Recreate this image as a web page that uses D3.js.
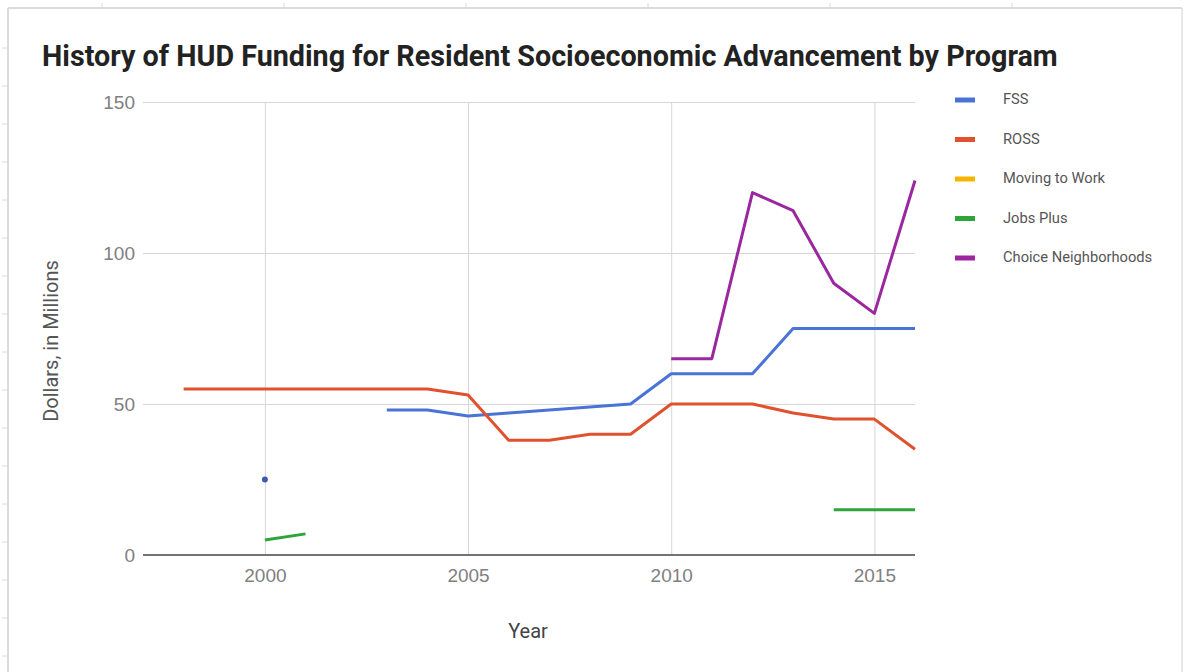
<!DOCTYPE html>
<html>
<head>
<meta charset="utf-8">
<script src="https://cdn.jsdelivr.net/npm/d3@7"></script>
<style>
  html, body { margin: 0; padding: 0; background: #fff; }
  svg { display: block; font-family: Roboto, Arial, sans-serif; }
</style>
</head>
<body>
<svg id="chart" width="1187" height="672"></svg>
<script>
// values (millions of dollars), null = no funding shown
const years = d3.range(1998, 2017);
const fss = [null, null, 25, null, null, 48, 48, 46, 47, 48, 49, 50, 60, 60, 60, 75, 75, 75, 75];
const ross = [55, 55, 55, 55, 55, 55, 55, 53, 38, 38, 40, 40, 50, 50, 50, 47, 45, 45, 35];
const movingToWork = [null, null, null, null, null, null, null, null, null, null, null, null, null, null, null, null, null, null, null];
const jobsPlus = [null, null, 5, 7, null, null, null, null, null, null, null, null, null, null, null, null, 15, 15, 15];
const choice = [null, null, null, null, null, null, null, null, null, null, null, null, 65, 65, 120, 114, 90, 80, 124];

const seriesNames = ['FSS', 'ROSS', 'Moving to Work', 'Jobs Plus', 'Choice Neighborhoods'];
const seriesValues = [fss, ross, movingToWork, jobsPlus, choice];
const colors = ['#4a73d6', '#e0512e', '#f4b400', '#2fa43a', '#9b279f'];
const xTicks = [2000, 2005, 2010, 2015];
const yTicks = [0, 50, 100, 150];

const W = 1187, H = 672;
const M = { top: 102, right: 272, bottom: 117, left: 143 };

const svg = d3.select('#chart');

// spreadsheet frame behind the chart
const frame = svg.append('g').attr('stroke', '#cfcfcf').attr('fill', 'none');
frame.append('line').attr('x1', 8).attr('x2', 1182).attr('y1', 8).attr('y2', 8).attr('stroke-width', 1.5);
frame.append('line').attr('x1', 8).attr('x2', 8).attr('y1', 8).attr('y2', H).attr('stroke-width', 1.5);
frame.append('line').attr('x1', 1182).attr('x2', 1182).attr('y1', 8).attr('y2', H).attr('stroke-width', 1);
d3.range(48, H, 38).forEach(yy => {
  frame.append('line').attr('x1', 2).attr('x2', 8).attr('y1', yy).attr('y2', yy).attr('stroke', '#d8d8d8');
});
d3.range(102, 1182, 182).forEach(xx => {
  frame.append('line').attr('x1', xx).attr('x2', xx).attr('y1', 3).attr('y2', 8).attr('stroke', '#d8d8d8');
});

const x = d3.scaleLinear().domain([1997, 2016]).range([M.left, W - M.right]);
const y = d3.scaleLinear().domain([0, 150]).range([H - M.bottom, M.top]);

// grid
svg.append('g')
  .attr('transform', `translate(0,${H - M.bottom})`)
  .call(d3.axisBottom(x).tickValues(xTicks).tickSize(-(H - M.top - M.bottom)).tickFormat(''))
  .call(g => g.select('.domain').remove())
  .call(g => g.selectAll('.tick line').attr('stroke', '#d6d6d6'));

svg.append('g')
  .attr('transform', `translate(${M.left},0)`)
  .call(d3.axisLeft(y).tickValues(yTicks).tickSize(-(W - M.left - M.right)).tickFormat(d3.format('d')))
  .call(g => g.select('.domain').remove())
  .call(g => g.selectAll('.tick line').attr('stroke', d => d === 0 ? 'none' : '#d6d6d6'))
  .call(g => g.selectAll('text')
    .attr('fill', '#808080')
    .style('font-size', '19px')
    .attr('x', -8));

// x labels
svg.append('g')
  .attr('transform', `translate(0,${H - M.bottom})`)
  .call(d3.axisBottom(x).tickValues(xTicks).tickSize(0).tickPadding(14).tickFormat(d3.format('d')))
  .call(g => g.select('.domain').remove())
  .call(g => g.selectAll('text').attr('fill', '#808080').style('font-size', '19px'));

// baseline
svg.append('line')
  .attr('x1', M.left).attr('x2', W - M.right)
  .attr('y1', y(0)).attr('y2', y(0))
  .attr('stroke', '#444').attr('stroke-width', 1.5);

// lines
const line = d3.line()
  .defined(d => d.v !== null)
  .x(d => x(d.year))
  .y(d => y(d.v));

seriesValues.forEach((vals, si) => {
  const pts = years.map((yr, i) => ({ year: yr, v: vals[i] }));
  svg.append('path')
    .datum(pts)
    .attr('d', line)
    .attr('fill', 'none')
    .attr('stroke', colors[si])
    .attr('stroke-width', 3)
    .attr('stroke-linejoin', 'round');
  // isolated points get a dot
  pts.forEach((p, i) => {
    if (p.v === null) return;
    const prev = i > 0 ? pts[i - 1].v : null;
    const next = i < pts.length - 1 ? pts[i + 1].v : null;
    if (prev === null && next === null) {
      svg.append('circle')
        .attr('cx', x(p.year)).attr('cy', y(p.v)).attr('r', 3)
        .attr('fill', d3.color(colors[si]).darker(0.6));
    }
  });
});

// title
const title = svg.append('text')
  .attr('x', 42).attr('y', 66)
  .attr('fill', '#222')
  .style('font-size', '25px')
  .style('font-weight', '700')
  .text('History of HUD Funding for Resident Socioeconomic Advancement by Program');
const tw = title.node().getComputedTextLength();
title.style('font-size', (25 * 1016 / tw).toFixed(2) + 'px');

// axis titles
svg.append('text')
  .attr('transform', `translate(58,341) rotate(-90)`)
  .attr('text-anchor', 'middle')
  .attr('fill', '#555')
  .style('font-size', '20px')
  .text('Dollars, in Millions');

svg.append('text')
  .attr('x', 528).attr('y', 638)
  .attr('text-anchor', 'middle')
  .attr('fill', '#444')
  .style('font-size', '20px')
  .text('Year');

// legend
const legend = svg.append('g').attr('transform', 'translate(955,100)');
seriesNames.forEach((name, i) => {
  const g = legend.append('g').attr('transform', `translate(0,${i * 39.5})`);
  g.append('line').attr('x1', 0).attr('x2', 20).attr('y1', 0).attr('y2', 0)
    .attr('stroke', colors[i]).attr('stroke-width', 5);
  g.append('text')
    .attr('x', 48).attr('y', 4)
    .attr('fill', '#555')
    .style('font-size', '14.7px')
    .text(name);
});
</script>
</body>
</html>
